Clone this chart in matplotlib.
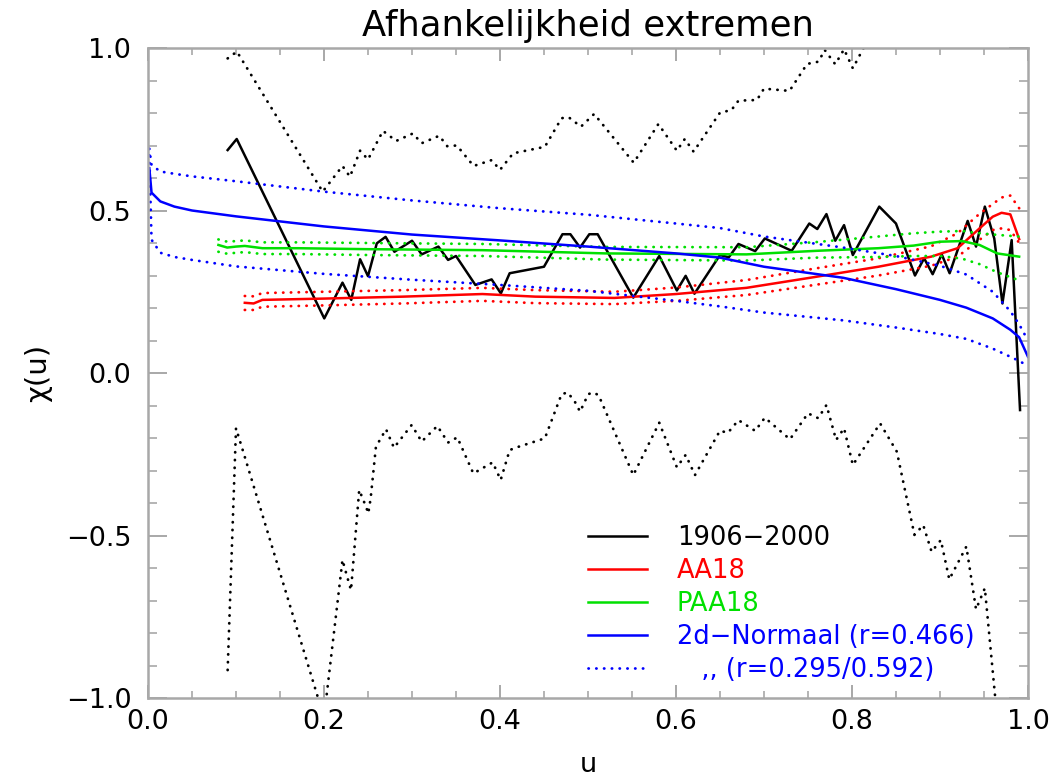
import matplotlib
matplotlib.use("Agg")
import matplotlib.pyplot as plt
from matplotlib.ticker import MultipleLocator

# --- waarnemingen 1906-2000 (chi(u) met band) ---
obs_u = [0.0905, 0.1008, 0.2003, 0.221, 0.231, 0.241, 0.250, 0.260, 0.270, 0.280,
         0.300, 0.311, 0.330, 0.341, 0.350, 0.372, 0.3905, 0.401, 0.411, 0.450,
         0.471, 0.480, 0.491, 0.5015, 0.511, 0.5515, 0.581, 0.601, 0.611, 0.621,
         0.650, 0.660, 0.671, 0.690, 0.701, 0.7315, 0.7515, 0.7606, 0.771, 0.781,
         0.791, 0.801, 0.831, 0.850, 0.8716, 0.882, 0.8917, 0.902, 0.911, 0.9315,
         0.941, 0.951, 0.9617, 0.971, 0.9815, 0.991]
obs_chi = [0.686, 0.720, 0.168, 0.278, 0.225, 0.350, 0.298, 0.399, 0.419, 0.373,
           0.407, 0.365, 0.389, 0.348, 0.360, 0.271, 0.288, 0.245, 0.307, 0.327,
           0.427, 0.427, 0.386, 0.427, 0.427, 0.232, 0.360, 0.254, 0.299, 0.244,
           0.363, 0.356, 0.397, 0.375, 0.414, 0.376, 0.460, 0.443, 0.489, 0.407,
           0.455, 0.363, 0.512, 0.460, 0.300, 0.353, 0.304, 0.365, 0.307, 0.468,
           0.389, 0.512, 0.414, 0.214, 0.409, -0.114]

obs_hi_u = [0.0905, 0.101, 0.1985, 0.221, 0.2295, 0.241, 0.250, 0.267, 0.282, 0.301,
            0.311, 0.331, 0.340, 0.351, 0.370, 0.3905, 0.400, 0.415, 0.451, 0.470,
            0.478, 0.492, 0.507, 0.552, 0.580, 0.601, 0.610, 0.620, 0.650, 0.663,
            0.671, 0.692, 0.700, 0.729, 0.749, 0.762, 0.769, 0.781, 0.791, 0.801,
            0.811, 0.830]
obs_hi = [0.968, 0.989, 0.558, 0.637, 0.604, 0.684, 0.657, 0.745, 0.714, 0.737,
          0.707, 0.730, 0.698, 0.700, 0.637, 0.655, 0.625, 0.676, 0.696, 0.784,
          0.787, 0.758, 0.797, 0.647, 0.766, 0.684, 0.720, 0.681, 0.801, 0.809,
          0.838, 0.840, 0.875, 0.868, 0.951, 0.958, 0.994, 0.950, 0.996, 0.9375,
          0.989, 1.080]

obs_lo_u = [0.0905, 0.100, 0.1076, 0.200, 0.221, 0.2258, 0.2307, 0.240, 0.2477, 0.2503,
            0.253, 0.259, 0.2705, 0.2795, 0.2996, 0.311, 0.3288, 0.341, 0.3515, 0.3697,
            0.3917, 0.4008, 0.411, 0.421, 0.451, 0.470, 0.477, 0.485, 0.491, 0.5003,
            0.506, 0.512, 0.5515, 0.581, 0.601, 0.611, 0.6216, 0.650, 0.659, 0.671,
            0.690, 0.701, 0.7295, 0.750, 0.7617, 0.771, 0.782, 0.791, 0.801, 0.832,
            0.851, 0.871, 0.881, 0.8905, 0.901, 0.9106, 0.930, 0.941, 0.951, 0.9625,
            0.970]
obs_lo = [-0.914, -0.170, -0.237, -1.060, -0.575, -0.622, -0.668, -0.360, -0.411, -0.432,
          -0.386, -0.227, -0.173, -0.230, -0.160, -0.211, -0.163, -0.214, -0.198, -0.309,
          -0.275, -0.329, -0.237, -0.227, -0.201, -0.065, -0.060, -0.088, -0.119, -0.065,
          -0.060, -0.068, -0.314, -0.153, -0.290, -0.252, -0.314, -0.1775, -0.184, -0.145,
          -0.178, -0.1375, -0.204, -0.124, -0.139, -0.0985, -0.206, -0.170, -0.283, -0.155,
          -0.242, -0.498, -0.468, -0.550, -0.514, -0.635, -0.534, -0.727, -0.662, -0.990,
          -1.200]

# --- AA18 ---
aa_u = [0.11, 0.12, 0.13, 0.20, 0.29, 0.38, 0.44, 0.53, 0.60, 0.68, 0.75, 0.83,
        0.89, 0.92, 0.945, 0.96, 0.97, 0.98, 0.99]
aa_chi = [0.216, 0.214, 0.225, 0.229, 0.235, 0.243, 0.235, 0.231, 0.243, 0.262, 0.292,
          0.327, 0.358, 0.384, 0.445, 0.481, 0.493, 0.488, 0.412]
aa_hi = [0.237, 0.236, 0.246, 0.250, 0.255, 0.262, 0.255, 0.250, 0.263, 0.286, 0.318,
         0.353, 0.390, 0.430, 0.490, 0.520, 0.540, 0.546, 0.507]
aa_lo = [0.194, 0.194, 0.204, 0.208, 0.214, 0.222, 0.215, 0.212, 0.222, 0.240, 0.268,
         0.300, 0.330, 0.358, 0.410, 0.440, 0.445, 0.440, 0.400]

# --- PAA18 ---
paa_u = [0.08, 0.09, 0.10, 0.11, 0.13, 0.17, 0.25, 0.38, 0.52, 0.68, 0.76, 0.83,
         0.87, 0.90, 0.925, 0.945, 0.965, 0.99]
paa_chi = [0.394, 0.386, 0.389, 0.391, 0.384, 0.384, 0.381, 0.378, 0.368, 0.365, 0.376,
           0.384, 0.392, 0.404, 0.406, 0.394, 0.368, 0.358]
paa_hi = [0.411, 0.404, 0.406, 0.408, 0.402, 0.402, 0.400, 0.397, 0.388, 0.387, 0.403,
          0.420, 0.430, 0.435, 0.437, 0.430, 0.425, 0.420]
paa_lo = [0.373, 0.367, 0.370, 0.372, 0.366, 0.366, 0.363, 0.360, 0.349, 0.346, 0.355,
          0.357, 0.360, 0.360, 0.352, 0.335, 0.310, 0.285]

# --- 2d-Normaal ---
norm_u = [0.0015, 0.004, 0.014, 0.03, 0.05, 0.10, 0.20, 0.30, 0.40, 0.50, 0.60, 0.65,
          0.70, 0.79, 0.85, 0.90, 0.93, 0.96, 0.98, 0.99, 1.00]
norm_chi = [0.630, 0.555, 0.528, 0.512, 0.500, 0.482, 0.451, 0.426, 0.408, 0.389, 0.368,
            0.355, 0.327, 0.293, 0.258, 0.225, 0.201, 0.168, 0.133, 0.110, 0.050]
norm_hi = [0.690, 0.640, 0.620, 0.613, 0.605, 0.590, 0.558, 0.531, 0.507, 0.487, 0.460,
           0.446, 0.420, 0.386, 0.360, 0.330, 0.303, 0.250, 0.190, 0.150, 0.100]
norm_lo = [0.670, 0.410, 0.370, 0.357, 0.348, 0.328, 0.305, 0.287, 0.271, 0.253, 0.222,
           0.205, 0.186, 0.162, 0.140, 0.120, 0.105, 0.075, 0.050, 0.037, 0.022]

GREEN = "#00e000"
DOT = dict(lw=2.0, ls=(0, (0.1, 2.7)), dash_capstyle="round")

fig = plt.figure(figsize=(10.58, 7.78), dpi=100)
ax = fig.add_axes([0.1399, 0.1028, 0.8317, 0.8355])

ax.plot(obs_hi_u, obs_hi, color="black", **DOT)
ax.plot(obs_lo_u, obs_lo, color="black", **DOT)
l_obs, = ax.plot(obs_u, obs_chi, color="black", lw=1.8, label="1906\u22122000")

ax.plot(aa_u, aa_hi, color="red", **DOT)
ax.plot(aa_u, aa_lo, color="red", **DOT)
l_aa, = ax.plot(aa_u, aa_chi, color="red", lw=1.8, label="AA18")

ax.plot(paa_u, paa_hi, color=GREEN, **DOT)
ax.plot(paa_u, paa_lo, color=GREEN, **DOT)
l_paa, = ax.plot(paa_u, paa_chi, color=GREEN, lw=1.8, label="PAA18")

l_nhi, = ax.plot(norm_u, norm_hi, color="blue", label="   ,, (r=0.295/0.592)", **DOT)
ax.plot(norm_u, norm_lo, color="blue", **DOT)
l_norm, = ax.plot(norm_u, norm_chi, color="blue", lw=1.8, label="2d\u2212Normaal (r=0.466)")

ax.set_xlim(0, 1)
ax.set_ylim(-1, 1)
ax.xaxis.set_major_locator(MultipleLocator(0.2))
ax.xaxis.set_minor_locator(MultipleLocator(0.05))
ax.yaxis.set_major_locator(MultipleLocator(0.5))
ax.yaxis.set_minor_locator(MultipleLocator(0.1))
ax.xaxis.set_major_formatter(plt.FuncFormatter(lambda v, p: f"{v:.1f}"))
ax.yaxis.set_major_formatter(plt.FuncFormatter(lambda v, p: f"{v:.1f}".replace("-", "\u2212")))

frame = "#a8a8a8"
for s in ax.spines.values():
    s.set_color(frame)
    s.set_linewidth(1.8)
ax.tick_params(axis="both", which="both", direction="in", top=True, right=True,
               color=frame, labelsize=19.5)
ax.tick_params(axis="x", which="major", length=9.5, width=1.4, pad=8)
ax.tick_params(axis="x", which="minor", length=5, width=1.2)
ax.tick_params(axis="y", which="major", length=13.5, width=1.4, pad=12)
ax.tick_params(axis="y", which="minor", length=6.5, width=1.2)

ax.set_title("Afhankelijkheid extremen", fontsize=25.5, pad=9)
ax.set_xlabel("u", fontsize=19.5, labelpad=12)
ax.set_ylabel("\u03c7(u)", fontsize=21, labelpad=10)

ax.legend(handles=[l_obs, l_aa, l_paa, l_norm, l_nhi],
          labelcolor=["black", "red", GREEN, "blue", "blue"],
          loc="upper left", bbox_to_anchor=(0.5, 0.266), frameon=False,
          fontsize=18.5, handlelength=2.3, handletextpad=1.15, labelspacing=0.27,
          borderpad=0, borderaxespad=0)

fig.savefig("out.png", dpi=100)
